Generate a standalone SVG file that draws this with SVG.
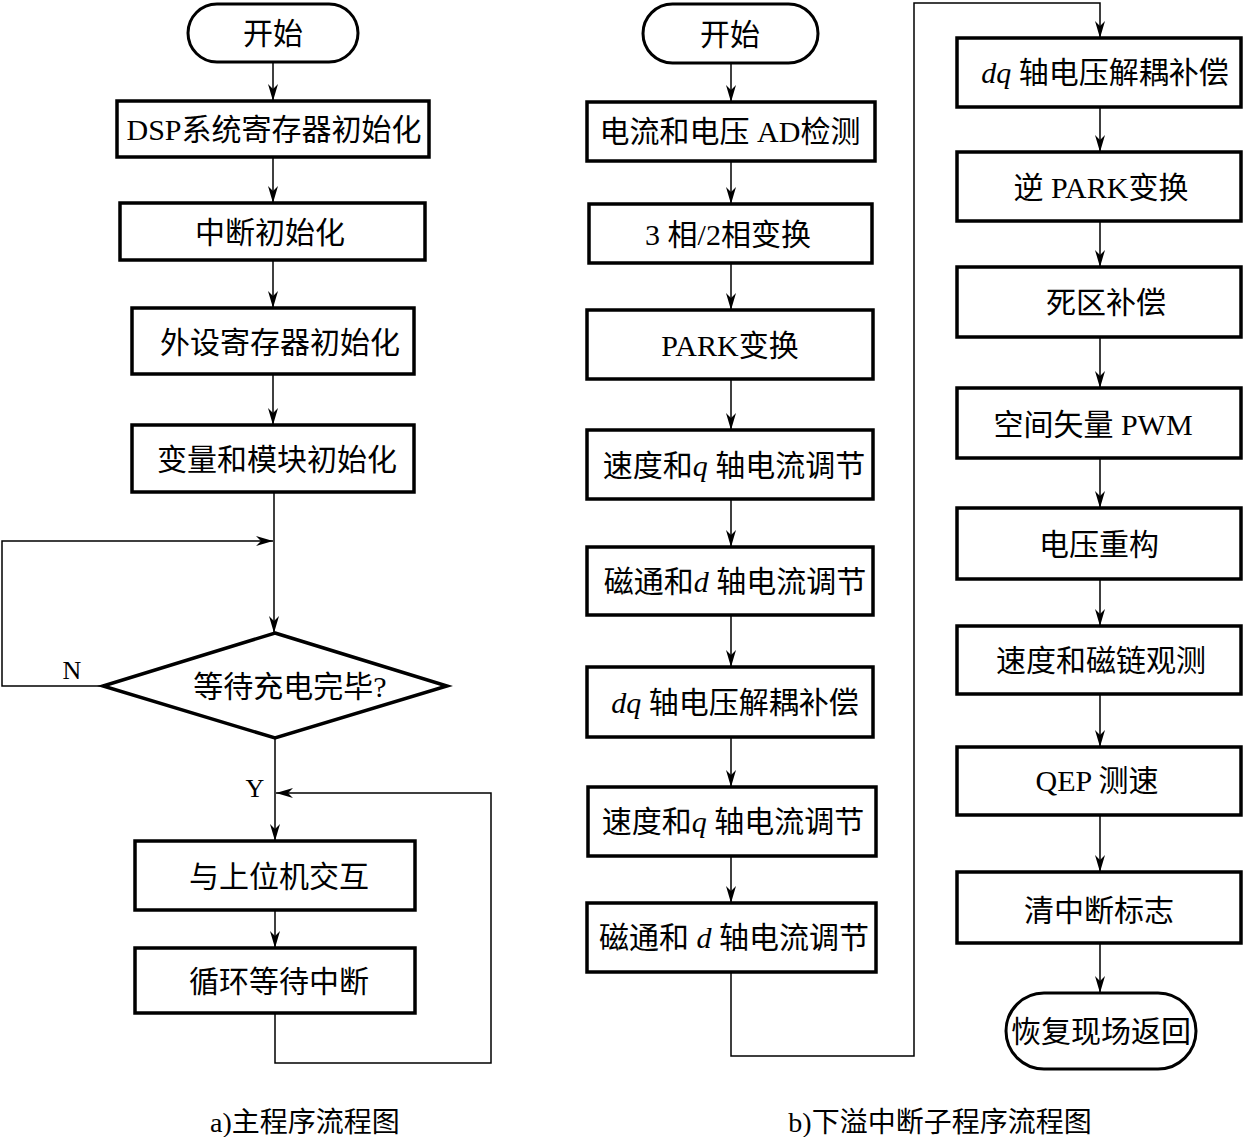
<svg xmlns="http://www.w3.org/2000/svg" width="1244" height="1137" viewBox="0 0 1244 1137">
<defs>
<style>
.box{fill:#fff;stroke:#000;stroke-width:3.5}
.term{fill:#fff;stroke:#000;stroke-width:3}
.ln{fill:none;stroke:#000;stroke-width:1.5}
.t{font-family:"Liberation Serif","Noto Sans CJK SC",serif;font-size:30px;text-anchor:middle;fill:#000}
.cap{font-family:"Liberation Serif","Noto Sans CJK SC",serif;font-size:28px;text-anchor:middle;fill:#000}
.i{font-style:italic}
</style>
<marker id="ar" markerUnits="userSpaceOnUse" markerWidth="20" markerHeight="12" viewBox="-18 -6 20 12" refX="0" refY="0" orient="auto">
<path d="M0,0 L-17,-5 L-12,0 L-17,5 Z" fill="#000"/>
</marker>
</defs>
<rect width="1244" height="1137" fill="#fff"/>

<g id="connectors">
<!-- left column -->
<line class="ln" x1="273" y1="62" x2="273" y2="101" marker-end="url(#ar)"/>
<line class="ln" x1="273" y1="157" x2="273" y2="203" marker-end="url(#ar)"/>
<line class="ln" x1="273" y1="260" x2="273" y2="308" marker-end="url(#ar)"/>
<line class="ln" x1="273" y1="374" x2="273" y2="425" marker-end="url(#ar)"/>
<line class="ln" x1="274" y1="492" x2="274" y2="633" marker-end="url(#ar)"/>
<polyline class="ln" points="103,686 2,686 2,541 273,541" marker-end="url(#ar)"/>
<line class="ln" x1="275" y1="738" x2="275" y2="841" marker-end="url(#ar)"/>
<polyline class="ln" points="275,1013 275,1063 491,1063 491,793 276,793" marker-end="url(#ar)"/>
<line class="ln" x1="275" y1="910" x2="275" y2="948" marker-end="url(#ar)"/>
<!-- middle column -->
<line class="ln" x1="731" y1="63" x2="731" y2="102" marker-end="url(#ar)"/>
<line class="ln" x1="731" y1="161" x2="731" y2="204" marker-end="url(#ar)"/>
<line class="ln" x1="731" y1="263" x2="731" y2="310" marker-end="url(#ar)"/>
<line class="ln" x1="731" y1="379" x2="731" y2="430" marker-end="url(#ar)"/>
<line class="ln" x1="731" y1="499" x2="731" y2="547" marker-end="url(#ar)"/>
<line class="ln" x1="731" y1="615" x2="731" y2="667" marker-end="url(#ar)"/>
<line class="ln" x1="731" y1="737" x2="731" y2="787" marker-end="url(#ar)"/>
<line class="ln" x1="731" y1="856" x2="731" y2="903" marker-end="url(#ar)"/>
<polyline class="ln" points="731,972 731,1056 914,1056 914,3 1100,3 1100,38" marker-end="url(#ar)"/>
<!-- right column -->
<line class="ln" x1="1100" y1="107" x2="1100" y2="152" marker-end="url(#ar)"/>
<line class="ln" x1="1100" y1="221" x2="1100" y2="267" marker-end="url(#ar)"/>
<line class="ln" x1="1100" y1="337" x2="1100" y2="388" marker-end="url(#ar)"/>
<line class="ln" x1="1100" y1="458" x2="1100" y2="508" marker-end="url(#ar)"/>
<line class="ln" x1="1100" y1="579" x2="1100" y2="626" marker-end="url(#ar)"/>
<line class="ln" x1="1100" y1="694" x2="1100" y2="747" marker-end="url(#ar)"/>
<line class="ln" x1="1100" y1="815" x2="1100" y2="872" marker-end="url(#ar)"/>
<line class="ln" x1="1100" y1="943" x2="1100" y2="993" marker-end="url(#ar)"/>
</g>

<!-- labels -->
<text class="t" x="72" y="679" style="font-size:26px">N</text>
<text class="t" x="255" y="797" style="font-size:26px">Y</text>

<!-- Left column nodes -->
<g id="a_start"><rect class="term" x="188" y="4" width="170" height="58" rx="29"/><text class="t" x="273" y="44">开始</text></g>
<g id="a_dsp"><rect class="box" x="117" y="101" width="312" height="56"/><text class="t" x="274" y="140">DSP系统寄存器初始化</text></g>
<g id="a_int"><rect class="box" x="120" y="203" width="305" height="57"/><text class="t" x="270" y="243">中断初始化</text></g>
<g id="a_periph"><rect class="box" x="132" y="308" width="282" height="66"/><text class="t" x="280" y="353">外设寄存器初始化</text></g>
<g id="a_var"><rect class="box" x="132" y="425" width="282" height="67"/><text class="t" x="277" y="470">变量和模块初始化</text></g>
<g id="a_wait"><polygon class="box" points="275,633 447,686 275,738 103,686"/><text class="t" x="290" y="697">等待充电完毕?</text></g>
<g id="a_host"><rect class="box" x="135" y="841" width="280" height="69"/><text class="t" x="279" y="887">与上位机交互</text></g>
<g id="a_loop"><rect class="box" x="135" y="948" width="280" height="65"/><text class="t" x="279" y="992">循环等待中断</text></g>

<!-- Middle column nodes -->
<g id="b_start"><rect class="term" x="643" y="4" width="175" height="59" rx="29.5"/><text class="t" x="730" y="45">开始</text></g>
<g id="b_ad"><rect class="box" x="587" y="102" width="288" height="59"/><text class="t" x="730" y="142">电流和电压 AD检测</text></g>
<g id="b_32"><rect class="box" x="589" y="204" width="283" height="59"/><text class="t" x="728" y="245">3 相/2相变换</text></g>
<g id="b_park"><rect class="box" x="587" y="310" width="286" height="69"/><text class="t" x="730" y="356">PARK变换</text></g>
<g id="b_q1"><rect class="box" x="587" y="430" width="286" height="69"/><text class="t" x="734" y="476">速度和<tspan class="i">q</tspan> 轴电流调节</text></g>
<g id="b_d1"><rect class="box" x="587" y="547" width="286" height="68"/><text class="t" x="735" y="592">磁通和<tspan class="i">d</tspan> 轴电流调节</text></g>
<g id="b_dq"><rect class="box" x="587" y="667" width="286" height="70"/><text class="t" x="735" y="713"><tspan class="i">dq</tspan> 轴电压解耦补偿</text></g>
<g id="b_q2"><rect class="box" x="588" y="787" width="288" height="69"/><text class="t" x="733" y="832">速度和<tspan class="i">q</tspan> 轴电流调节</text></g>
<g id="b_d2"><rect class="box" x="587" y="903" width="289" height="69"/><text class="t" x="734" y="948">磁通和 <tspan class="i">d</tspan> 轴电流调节</text></g>

<!-- Right column nodes -->
<g id="c_dq"><rect class="box" x="957" y="38" width="284" height="69"/><text class="t" x="1105" y="83"><tspan class="i">dq</tspan> 轴电压解耦补偿</text></g>
<g id="c_ipark"><rect class="box" x="957" y="152" width="284" height="69"/><text class="t" x="1101" y="198">逆 PARK变换</text></g>
<g id="c_dead"><rect class="box" x="957" y="267" width="284" height="70"/><text class="t" x="1106" y="313">死区补偿</text></g>
<g id="c_svpwm"><rect class="box" x="957" y="388" width="284" height="70"/><text class="t" x="1093" y="435">空间矢量 PWM</text></g>
<g id="c_vrec"><rect class="box" x="957" y="508" width="284" height="71"/><text class="t" x="1099" y="555">电压重构</text></g>
<g id="c_obs"><rect class="box" x="957" y="626" width="284" height="68"/><text class="t" x="1101" y="671">速度和磁链观测</text></g>
<g id="c_qep"><rect class="box" x="957" y="747" width="284" height="68"/><text class="t" x="1097" y="791">QEP 测速</text></g>
<g id="c_clr"><rect class="box" x="957" y="872" width="284" height="71"/><text class="t" x="1099" y="921">清中断标志</text></g>
<g id="c_end"><rect class="term" x="1006" y="993" width="190" height="76" rx="38"/><text class="t" x="1101" y="1042">恢复现场返回</text></g>

<text class="cap" x="305" y="1132">a)主程序流程图</text>
<text class="cap" x="940" y="1132">b)下溢中断子程序流程图</text>
</svg>
